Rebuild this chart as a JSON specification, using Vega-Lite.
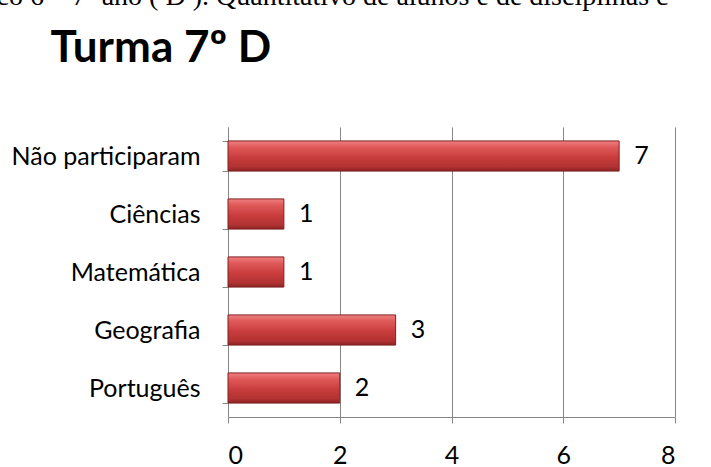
{
  "$schema": "https://vega.github.io/schema/vega-lite/v6.json",
  "width": 447,
  "height": 290,
  "autosize": {"type": "none"},
  "padding": {"left": 228, "top": 127, "right": 36, "bottom": 50},
  "background": "white",
  "data": {
    "values": [
      {"categoria": "Não participaram", "alunos": 7},
      {"categoria": "Ciências\u00a0", "alunos": 1},
      {"categoria": "Matemática", "alunos": 1},
      {"categoria": "Geografia\u00a0", "alunos": 3},
      {"categoria": "Português", "alunos": 2}
    ]
  },
  "encoding": {
    "y": {
      "field": "categoria",
      "type": "nominal",
      "sort": null,
      "scale": {"paddingInner": 0.48, "paddingOuter": 0.24},
      "axis": {
        "title": "Turma 7º D",
        "titleAngle": 0,
        "titleX": -178,
        "titleY": -66,
        "titleAlign": "left",
        "titleBaseline": "alphabetic",
        "titleFont": "Lato",
        "titleFontSize": 44,
        "titleFontWeight": "bold",
        "titleColor": "black",
        "labelFont": "Lato",
        "labelFontSize": 25,
        "labelColor": "black",
        "labelPadding": 22,
        "tickBand": "extent",
        "tickSize": 6,
        "tickColor": "#868686",
        "domainColor": "#868686",
        "labelLimit": 400
      }
    },
    "x": {
      "field": "alunos",
      "type": "quantitative",
      "scale": {"domain": [0, 8], "nice": false},
      "axis": {
        "values": [0, 2, 4, 6, 8],
        "title": "Gráfico 6 – 7º ano ( D ). Quantitativo de alunos e de disciplinas c",
        "titleX": -291,
        "titleY": -413,
        "titleAlign": "left",
        "titleBaseline": "alphabetic",
        "titleFont": "Liberation Serif",
        "titleFontSize": 28,
        "titleFontWeight": "normal",
        "titleColor": "black",
        "labelFont": "Lato",
        "labelFontSize": 25,
        "labelColor": "black",
        "labelPadding": 20,
        "tickSize": 6,
        "tickColor": "#868686",
        "domainColor": "#868686",
        "gridColor": "#868686",
        "gridOpacity": 1,
        "grid": true
      }
    }
  },
  "layer": [
    {
      "mark": {
        "type": "bar",
        "stroke": "#7f2020",
        "strokeWidth": 1,
        "color": {
          "gradient": "linear",
          "x1": 0, "y1": 0, "x2": 0, "y2": 1,
          "stops": [
            {"offset": 0, "color": "#f08080"},
            {"offset": 0.2, "color": "#e05a5a"},
            {"offset": 0.55, "color": "#c93c3c"},
            {"offset": 0.85, "color": "#b33232"},
            {"offset": 1, "color": "#8c2525"}
          ]
        }
      }
    },
    {
      "mark": {
        "type": "text",
        "align": "left",
        "baseline": "middle",
        "dx": 15,
        "font": "Lato",
        "fontSize": 25,
        "color": "black"
      },
      "encoding": {"text": {"field": "alunos", "type": "quantitative"}}
    }
  ],
  "config": {"view": {"stroke": null}}
}
